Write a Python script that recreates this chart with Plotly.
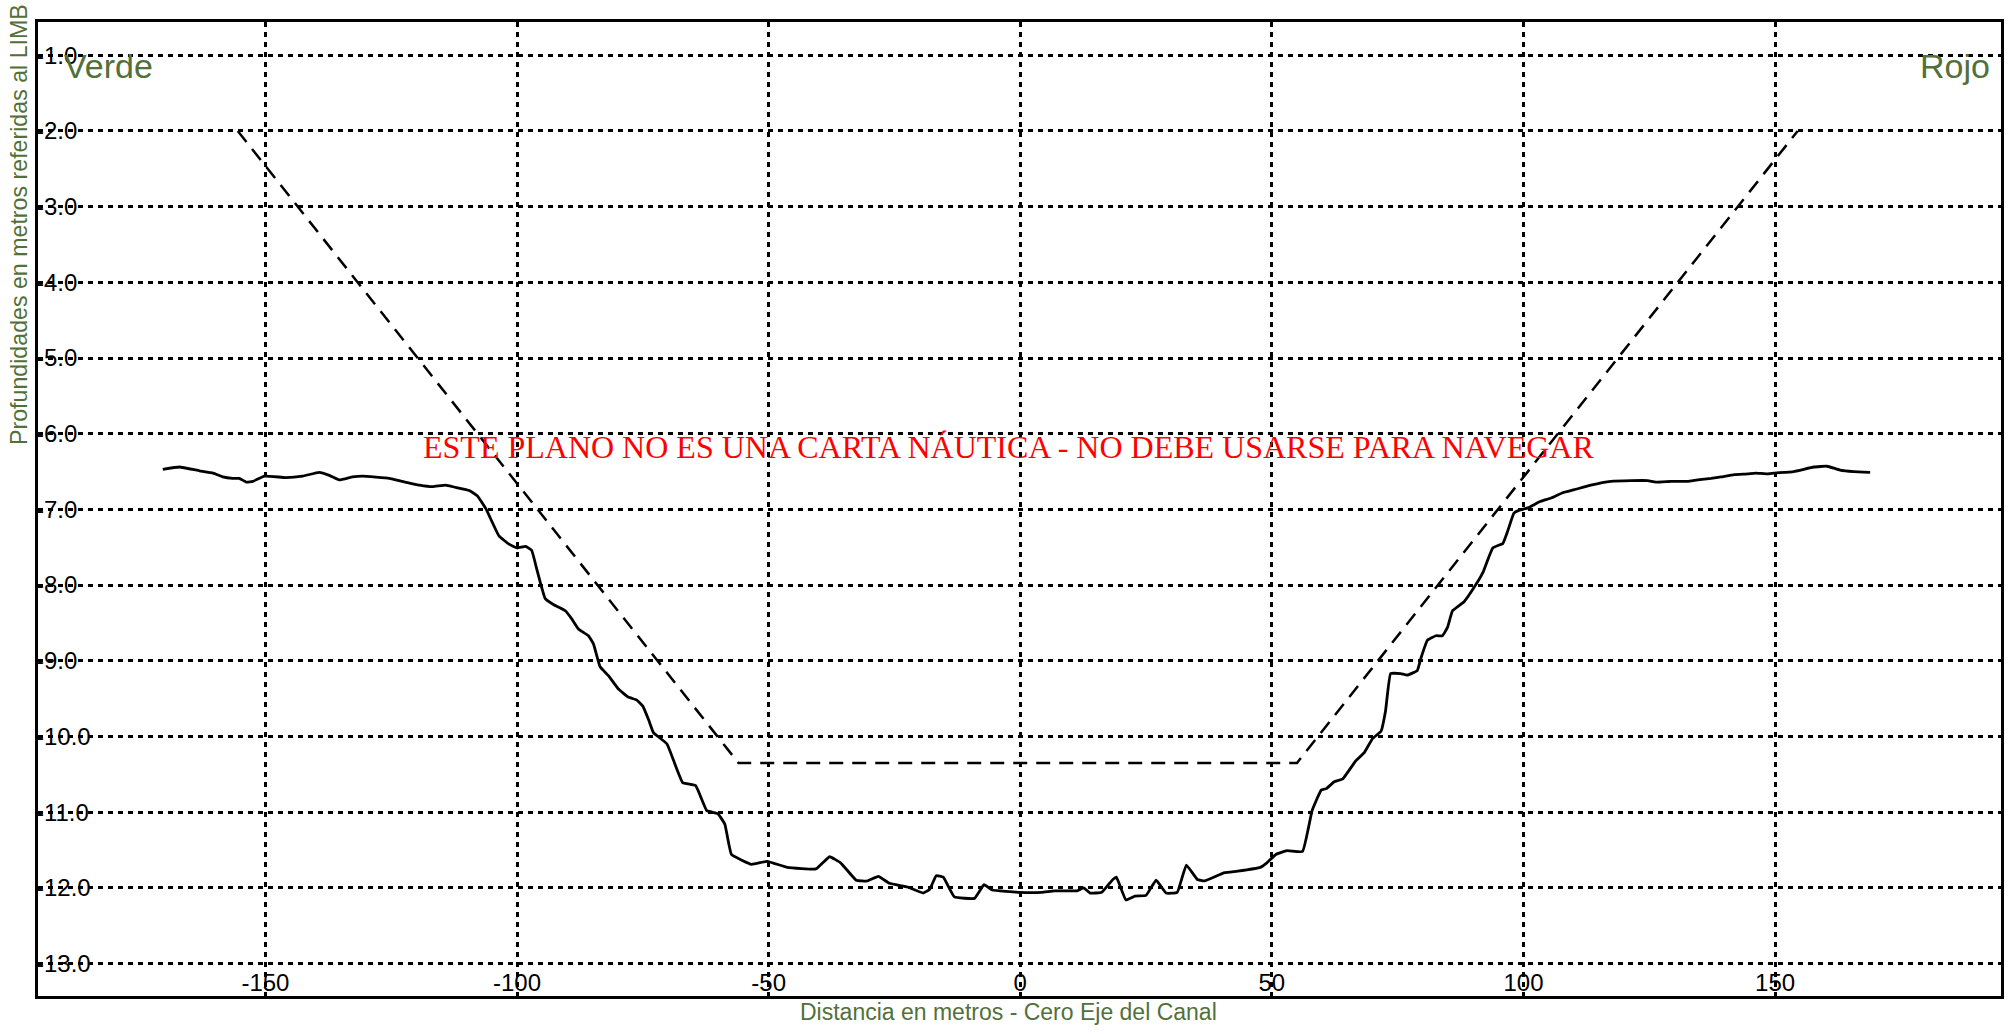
import plotly.graph_objects as go

# Profile (sounding) – distance (m) and depth (m)
profile_x = [-170.4, -167.1, -163.1, -160.4, -158.5, -156.5, -155.2, -153.8, -152.5, -150.2,
             -145.9, -142.6, -139.3, -137.3, -135.3, -132.7, -130.7, -125.4, -123.4, -119.4,
             -116.8, -114.2, -112.2, -109.5, -107.9, -106.2, -103.6, -101.6, -100.0, -98.3,
             -97.1, -96.0, -94.4, -92.7, -90.4, -89.1, -87.8, -85.8, -84.8, -83.5,
             -81.8, -79.9, -77.9, -76.2, -75.0, -73.8, -72.9, -70.2, -67.1, -64.5,
             -62.3, -60.1, -58.7, -57.4, -53.4, -50.3, -46.3, -40.6, -37.9, -35.7,
             -32.6, -30.4, -28.2, -26.0, -22.4, -19.3, -18.0, -16.7, -15.3, -13.1,
             -9.1, -7.2, -5.6, -0.1, 4.2, 6.8, 11.3, 12.6, 13.9, 16.2,
             18.4, 19.1, 21.0, 22.8, 25.0, 27.0, 29.0, 31.2, 33.0, 35.2,
             36.6, 40.6, 43.2, 47.7, 49.0, 50.8, 53.0, 56.1, 58.0, 59.8,
             60.8, 62.4, 64.1, 66.7, 68.4, 70.0, 71.7, 72.6, 73.6, 75.6,
             76.9, 78.9, 79.6, 80.9, 82.6, 83.9, 84.9, 85.9, 88.2, 90.2,
             91.9, 93.9, 95.9, 96.9, 98.1, 99.2, 100.9, 103.2, 105.5, 107.8,
             110.1, 113.4, 117.4, 121.4, 124.7, 126.3, 129.3, 132.6, 134.6, 137.3,
             139.3, 141.9, 144.6, 146.1, 148.4, 149.8, 153.7, 157.7, 160.3, 162.9,
             165.6, 168.9]
profile_y = [-6.47, -6.44, -6.49, -6.52, -6.57, -6.59, -6.59, -6.64, -6.63, -6.56,
             -6.58, -6.56, -6.51, -6.55, -6.61, -6.57, -6.56, -6.59, -6.62, -6.68,
             -6.70, -6.68, -6.71, -6.75, -6.82, -6.99, -7.35, -7.46, -7.51, -7.49,
             -7.54, -7.81, -8.18, -8.26, -8.34, -8.45, -8.58, -8.67, -8.78, -9.08,
             -9.20, -9.37, -9.48, -9.52, -9.60, -9.79, -9.95, -10.10, -10.61, -10.65,
             -10.98, -11.02, -11.16, -11.56, -11.69, -11.65, -11.73, -11.75, -11.59, -11.67,
             -11.90, -11.91, -11.85, -11.94, -11.99, -12.07, -12.02, -11.84, -11.86, -12.12,
             -12.14, -11.96, -12.03, -12.06, -12.06, -12.04, -12.04, -12.00, -12.07, -12.06,
             -11.89, -11.86, -12.16, -12.11, -12.10, -11.90, -12.07, -12.06, -11.70, -11.89,
             -11.91, -11.80, -11.78, -11.73, -11.67, -11.56, -11.51, -11.52, -10.98, -10.71,
             -10.69, -10.60, -10.56, -10.32, -10.21, -10.03, -9.93, -9.66, -9.17, -9.17,
             -9.19, -9.13, -8.97, -8.73, -8.67, -8.67, -8.56, -8.34, -8.22, -8.03,
             -7.84, -7.51, -7.45, -7.28, -7.05, -7.01, -6.98, -6.90, -6.85, -6.78,
             -6.74, -6.68, -6.63, -6.62, -6.62, -6.64, -6.63, -6.63, -6.61, -6.59,
             -6.57, -6.54, -6.53, -6.52, -6.53, -6.52, -6.50, -6.44, -6.43, -6.48,
             -6.50, -6.51]

# Design channel section (dashed)
design_x = [-155.5, -56.0, 55.0, 154.5]
design_y = [-2.0, -10.35, -10.35, -2.0]

# Axis ticks
x_ticks = [-150, -100, -50, 0, 50, 100, 150]
x_tick_labels = ["-150", "-100", "-50", "0", "50", "100", "150"]
y_ticks = [-1, -2, -3, -4, -5, -6, -7, -8, -9, -10, -11, -12, -13]
y_tick_labels = ["-1.0", "-2.0", "-3.0", "-4.0", "-5.0", "-6.0", "-7.0", "-8.0",
                 "-9.0", "-10.0", "-11.0", "-12.0", "-13.0"]

GREEN = "#52703a"
SANS = "Arial, Liberation Sans, sans-serif"
TICKFONT = "Arial, Liberation Sans, sans-serif"

fig = go.Figure()
fig.add_trace(go.Scatter(x=design_x, y=design_y, mode="lines",
                         line=dict(color="black", width=2.5, dash="14px,9px"),
                         hoverinfo="skip", showlegend=False))
fig.add_trace(go.Scatter(x=profile_x, y=profile_y, mode="lines",
                         line=dict(color="black", width=2.8, shape="spline", smoothing=0.3),
                         showlegend=False))

fig.update_layout(
    width=2010, height=1032,
    margin=dict(l=38, r=6, t=22, b=36),
    paper_bgcolor="white", plot_bgcolor="white",
    font=dict(family=SANS, color="black"),
    showlegend=False,
)

fig.update_xaxes(
    range=[-195.2, 194.9], tickvals=x_ticks, ticktext=x_tick_labels,
    ticklabelposition="inside", ticks="", ticklabelstandoff=2,
    tickfont=dict(family=TICKFONT, size=24, color="black"),
    showgrid=True, gridcolor="black", gridwidth=2.5, griddash="5px,5px",
    zeroline=False, showline=True, linecolor="black", linewidth=2.5, mirror=True,
)
fig.update_yaxes(
    range=[-13.43, -0.56], tickvals=y_ticks, ticktext=y_tick_labels,
    ticklabelposition="inside", ticks="",
    tickfont=dict(family=TICKFONT, size=24, color="black"),
    showgrid=True, gridcolor="black", gridwidth=2.5, griddash="5px,5px",
    zeroline=False, showline=True, linecolor="black", linewidth=2.5, mirror=True,
)

annotations = [
    dict(text="Verde", x=-190.5, y=-1.145, xref="x", yref="y", xanchor="left", yanchor="middle",
         showarrow=False, font=dict(family=SANS, size=34, color=GREEN)),
    dict(text="Rojo", x=193.2, y=-1.145, xref="x", yref="y", xanchor="right", yanchor="middle",
         showarrow=False, font=dict(family=SANS, size=34, color=GREEN)),
    dict(text="ESTE PLANO NO ES UNA CARTA NÁUTICA - NO DEBE USARSE PARA NAVEGAR",
         x=-2.4, y=-6.18, xref="x", yref="y", xanchor="center", yanchor="middle",
         showarrow=False,
         font=dict(family="Times New Roman, Liberation Serif, serif", size=32, color="red")),
    dict(text="Profundidades en metros referidas al LIMB", textangle=-90,
         x=-0.0097, y=1.021, xref="paper", yref="paper", xanchor="center", yanchor="top",
         showarrow=False, font=dict(family=SANS, size=23.2, color=GREEN)),
    dict(text="Distancia en metros - Cero Eje del Canal",
         x=0.4944, y=-0.0164, xref="paper", yref="paper", xanchor="center", yanchor="middle",
         showarrow=False, font=dict(family=SANS, size=23, color=GREEN)),
]
fig.update_layout(annotations=annotations)

fig.write_html("out.html", config={"displayModeBar": False},
               post_script="document.body.style.margin='0';")
